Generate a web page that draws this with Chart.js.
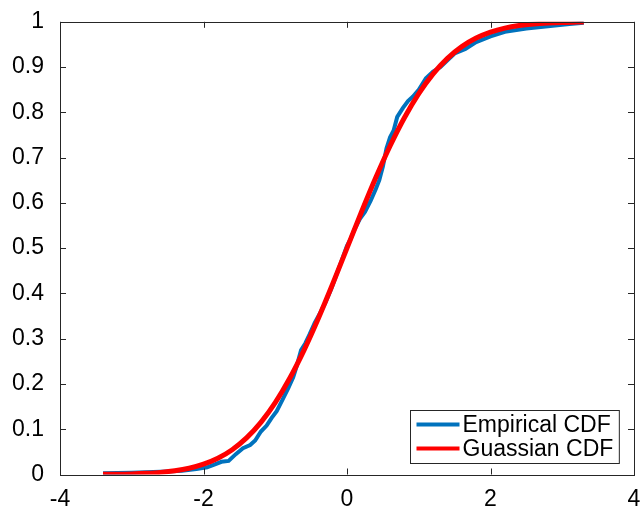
<!DOCTYPE html>
<html>
<head>
<meta charset="utf-8">
<script src="https://cdn.jsdelivr.net/npm/chart.js@4"></script>
<style>
  html, body { margin: 0; padding: 0; background: #fff; }
  #wrap { width: 641px; height: 508px; }
</style>
</head>
<body>
<div id="wrap"><canvas id="cdf-chart"></canvas></div>
<script>
// empirical CDF
const empX = [-3.40, -3.0, -2.6, -2.3, -2.1, -1.95, -1.85, -1.75, -1.65, -1.55, -1.45, -1.35, -1.28, -1.2, -1.12,
  -1.05, -0.98, -0.9, -0.82, -0.75, -0.7, -0.64, -0.58, -0.52, -0.45, -0.38, -0.3, -0.22, -0.15, -0.08,
  0.0, 0.05, 0.1, 0.18, 0.25, 0.33, 0.4, 0.45, 0.5, 0.55, 0.6, 0.65, 0.7, 0.78, 0.85, 0.92,
  1.0, 1.1, 1.2, 1.3, 1.4, 1.5, 1.65, 1.8, 2.0, 2.2, 2.5, 2.8, 3.1, 3.3];
const empY = [0.003, 0.004, 0.006, 0.008, 0.012, 0.016, 0.022, 0.028, 0.030, 0.045, 0.058, 0.065, 0.075, 0.095, 0.108,
  0.125, 0.14, 0.165, 0.19, 0.215, 0.24, 0.275, 0.29, 0.31, 0.335, 0.355, 0.38, 0.41, 0.44, 0.47,
  0.505, 0.52, 0.54, 0.565, 0.58, 0.605, 0.63, 0.65, 0.68, 0.72, 0.745, 0.76, 0.79, 0.81, 0.825, 0.835,
  0.85, 0.875, 0.89, 0.9, 0.915, 0.93, 0.94, 0.955, 0.968, 0.978, 0.985, 0.99, 0.995, 0.998];

// gaussian CDF curve
const gaussX = [-3.4, -3.2, -3.0, -2.8, -2.6, -2.4, -2.2, -2.0, -1.8, -1.6, -1.4, -1.2, -1.0, -0.8, -0.6, -0.4, -0.2,
  0.0, 0.2, 0.4, 0.6, 0.8, 1.0, 1.2, 1.4, 1.6, 1.8, 2.0, 2.2, 2.4, 2.6, 2.8, 3.0, 3.2, 3.3];
const gaussY = [0.0003, 0.0007, 0.0013, 0.0026, 0.0047, 0.0082, 0.0139, 0.0228, 0.0359, 0.0548, 0.0808, 0.1151,
  0.1587, 0.2119, 0.2743, 0.3446, 0.4207, 0.5, 0.5793, 0.6554, 0.7257, 0.7881, 0.8413, 0.8849, 0.9192,
  0.9452, 0.9641, 0.9772, 0.9861, 0.9918, 0.9953, 0.9974, 0.9987, 0.9993, 0.9995];

const seriesLabels = ['Empirical CDF', 'Guassian CDF'];
const xTicks = { min: -4, max: 4, step: 2 };
const yTicks = { min: 0, max: 1, step: 0.1 };

const axisColor = '#262626';
const fontFamily = '"Liberation Sans", Arial, Helvetica, sans-serif';
const fontSize = 23;

const toPoints = (xs, ys) => xs.map((x, i) => ({ x: x, y: ys[i] }));

// MATLAB style box with inward ticks
const boxPlugin = {
  id: 'matlabBox',
  afterDraw(chart) {
    const ctx = chart.ctx;
    const a = chart.chartArea;
    const sx = chart.scales.x, sy = chart.scales.y;
    const len = 6;
    ctx.save();
    ctx.strokeStyle = axisColor;
    ctx.lineWidth = 1;
    ctx.strokeRect(Math.round(a.left) + 0.5, Math.round(a.top) + 0.5,
      Math.round(a.right - a.left), Math.round(a.bottom - a.top));
    ctx.beginPath();
    sx.ticks.forEach(t => {
      const px = Math.round(sx.getPixelForValue(t.value)) + 0.5;
      ctx.moveTo(px, a.bottom); ctx.lineTo(px, a.bottom - len);
      ctx.moveTo(px, a.top); ctx.lineTo(px, a.top + len);
    });
    sy.ticks.forEach(t => {
      const py = Math.round(sy.getPixelForValue(t.value)) + 0.5;
      ctx.moveTo(a.left, py); ctx.lineTo(a.left + len, py);
      ctx.moveTo(a.right, py); ctx.lineTo(a.right - len, py);
    });
    ctx.stroke();
    ctx.restore();
  }
};

// legend box inside the plot, bottom right
const legendPlugin = {
  id: 'insideLegend',
  afterDraw(chart) {
    const ctx = chart.ctx;
    const a = chart.chartArea;
    const sets = chart.data.datasets;
    ctx.save();
    ctx.font = fontSize + 'px ' + fontFamily;
    const textW = Math.max(...sets.map(d => ctx.measureText(d.label).width));
    const w = textW + 58, h = 53;
    const x0 = Math.round(a.right - 15 - w) + 0.5;
    const y0 = Math.round(a.bottom - 12 - h) + 0.5;
    ctx.fillStyle = '#fff';
    ctx.fillRect(x0, y0, w, h);
    ctx.strokeStyle = axisColor;
    ctx.lineWidth = 1;
    ctx.strokeRect(x0, y0, w, h);
    sets.forEach((d, i) => {
      const cy = y0 + 14 + i * 24;
      ctx.strokeStyle = d.borderColor;
      ctx.lineWidth = 4;
      ctx.beginPath();
      ctx.moveTo(x0 + 6, cy); ctx.lineTo(x0 + 49, cy);
      ctx.stroke();
      ctx.fillStyle = '#000';
      ctx.textBaseline = 'middle';
      ctx.fillText(d.label, x0 + 52, cy + 1);
    });
    ctx.restore();
  }
};

new Chart(document.getElementById('cdf-chart'), {
  type: 'line',
  data: {
    datasets: [{
      label: seriesLabels[0],
      data: toPoints(empX, empY),
      borderColor: '#0072BD',
      borderWidth: 4,
      pointRadius: 0,
      tension: 0,
      order: 2
    }, {
      label: seriesLabels[1],
      data: toPoints(gaussX, gaussY),
      borderColor: '#FF0000',
      borderWidth: 5,
      pointRadius: 0,
      cubicInterpolationMode: 'monotone',
      order: 1
    }]
  },
  options: {
    responsive: true,
    maintainAspectRatio: false,
    animation: false,
    layout: { padding: { top: 18, right: 7, left: 0, bottom: 0 } },
    plugins: {
      legend: { display: false },
      tooltip: { enabled: false }
    },
    scales: {
      x: {
        type: 'linear',
        min: xTicks.min, max: xTicks.max,
        grid: { display: false },
        border: { display: false },
        ticks: { stepSize: xTicks.step, color: '#000', padding: 3, maxRotation: 0,
          font: { size: fontSize, family: fontFamily } },
        afterFit(scale) { scale.height = 33.5; scale.paddingLeft = 0; scale.paddingRight = 0; }
      },
      y: {
        type: 'linear',
        min: yTicks.min, max: yTicks.max,
        grid: { display: false },
        border: { display: false },
        ticks: { stepSize: yTicks.step, color: '#000', padding: 8,
          font: { size: fontSize, family: fontFamily },
          callback: v => String(+v.toFixed(1)) },
        afterFit(scale) { scale.width = 60; }
      }
    }
  },
  plugins: [boxPlugin, legendPlugin]
});
</script>
</body>
</html>
